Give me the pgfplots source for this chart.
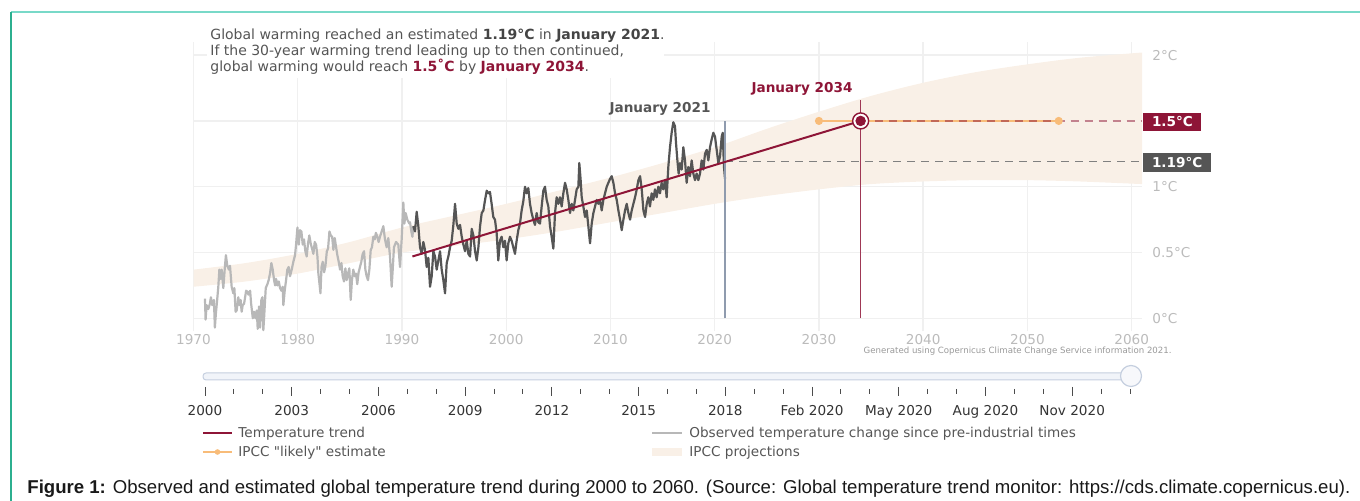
\documentclass[border=0pt]{standalone}
\usepackage{fontspec}
\setmainfont{DejaVu Sans}[Ligatures=TeXOff]
\newfontfamily\capfont{Liberation Sans}
\usepackage{pgfplots}
\pgfplotsset{compat=1.18}
\usepgfplotslibrary{fillbetween}

\definecolor{trendred}{HTML}{8E1537}
\definecolor{obsdark}{HTML}{555555}
\definecolor{obslight}{HTML}{B8B8B8}
\definecolor{bandfill}{HTML}{F9F0E7}
\definecolor{likelyorange}{HTML}{F8BC79}
\definecolor{gridgray}{HTML}{F0F0F0}
\definecolor{ticktext}{HTML}{BBBBBB}
\definecolor{textgray}{HTML}{555555}
\definecolor{linebluegray}{HTML}{8F9BAE}
\definecolor{tealtop}{HTML}{78D9C8}
\definecolor{tealleft}{HTML}{2CAF8F}
\definecolor{slidertrack}{HTML}{F1F4F9}
\definecolor{sliderline}{HTML}{C5CFDF}

\newcommand{\chartfont}{\fontsize{6.8pt}{8pt}\selectfont}

\begin{document}
\begin{tikzpicture}

\begin{axis}[
    at={(96.75pt,84.75pt)}, anchor=south west,
    scale only axis, width=474.3pt, height=144.76pt,
    xmin=1970, xmax=2061, ymin=-0.1, ymax=2.1,
    axis line style={draw=none},
    major tick length=0pt,
    xtick={1970,1980,...,2060},
    xticklabels={1970,1980,1990,2000,2010,2020,2030,2040,2050,2060},
    ytick={0,0.5,1,1.5,2},
    yticklabels={0°C,0.5°C,1°C,,2°C},
    yticklabel pos=right,
    grid=major,
    grid style={gridgray, line width=0.7pt},
    ticklabel style={font=\chartfont, text=ticktext},
    xticklabel style={anchor=base, inner sep=0pt, yshift=-6.75pt},
    yticklabel style={anchor=base west, inner sep=0pt, xshift=5pt, yshift=-2.5pt},
    clip=false,
]
% IPCC projections band
\addplot[name path=up, draw=none, smooth] coordinates {
    (1970,0.37) (1975,0.42) (1980,0.49) (1985,0.58) (1990,0.69) (1995,0.78)
    (2000,0.87) (2005,0.97) (2010,1.07) (2015,1.18) (2020,1.30) (2025,1.44)
    (2030,1.57) (2035,1.69) (2040,1.79) (2045,1.87) (2050,1.93) (2055,1.98) (2061,2.02)
};
\addplot[name path=lo, draw=none, smooth] coordinates {
    (1970,0.24) (1975,0.28) (1980,0.34) (1985,0.42) (1990,0.50) (1995,0.55)
    (2000,0.60) (2005,0.66) (2010,0.73) (2015,0.80) (2020,0.87) (2025,0.93)
    (2030,0.98) (2035,1.02) (2040,1.04) (2045,1.05) (2050,1.05) (2055,1.04) (2061,1.02)
};
\addplot[bandfill, draw=none] fill between[of=up and lo];

% observed, before the 30-year window
\addplot[obslight, line width=1.1pt, line join=round] coordinates {
    (1971.10,0.15) (1971.16,-0.01) (1971.26,0.10) (1971.42,0.07) (1971.57,0.11)
    (1971.67,0.16) (1971.80,0.10) (1971.96,0.14) (1972.05,-0.07) (1972.15,0.04)
    (1972.27,0.14) (1972.38,0.24) (1972.48,0.37) (1972.60,0.30) (1972.70,0.37)
    (1972.86,0.23) (1973.02,0.40) (1973.11,0.48) (1973.24,0.40) (1973.40,0.37)
    (1973.50,0.40) (1973.66,0.24) (1973.82,0.19) (1973.92,0.23) (1974.04,0.05)
    (1974.14,0.06) (1974.30,0.16) (1974.40,0.10) (1974.52,0.14) (1974.62,0.05)
    (1974.72,0.10) (1974.85,0.11) (1975.05,0.21) (1975.18,0.20) (1975.27,0.18)
    (1975.43,0.21) (1975.53,0.11) (1975.69,0.00) (1975.81,0.05) (1975.94,0.00)
    (1976.07,0.06) (1976.16,-0.08) (1976.29,0.09) (1976.39,-0.07) (1976.51,0.14)
    (1976.61,0.16) (1976.70,-0.09) (1976.77,0.00) (1976.93,0.23) (1977.09,0.26)
    (1977.21,0.29) (1977.34,0.34) (1977.47,0.42) (1977.60,0.37) (1977.73,0.29)
    (1977.83,0.25) (1977.92,0.30) (1978.05,0.25) (1978.18,0.28) (1978.30,0.23)
    (1978.43,0.21) (1978.56,0.24) (1978.62,0.10) (1978.75,0.21) (1978.88,0.29)
    (1979.00,0.37) (1979.13,0.39) (1979.26,0.32) (1979.42,0.37) (1979.58,0.43)
    (1979.74,0.48) (1979.84,0.56) (1979.97,0.69) (1980.10,0.56) (1980.22,0.67)
    (1980.35,0.66) (1980.48,0.56) (1980.60,0.60) (1980.73,0.51) (1980.86,0.47)
    (1980.99,0.57) (1981.11,0.63) (1981.24,0.57) (1981.37,0.53) (1981.50,0.49)
    (1981.63,0.58) (1981.76,0.56) (1981.89,0.47) (1981.98,0.34) (1982.09,0.26)
    (1982.18,0.19) (1982.28,0.39) (1982.40,0.43) (1982.53,0.35) (1982.66,0.40)
    (1982.79,0.51) (1982.91,0.53) (1983.04,0.66) (1983.17,0.63) (1983.30,0.62)
    (1983.42,0.52) (1983.55,0.61) (1983.68,0.54) (1983.80,0.48) (1983.93,0.43)
    (1984.06,0.37) (1984.19,0.42) (1984.31,0.32) (1984.44,0.28) (1984.57,0.38)
    (1984.69,0.29) (1984.82,0.34) (1984.95,0.38) (1985.08,0.14) (1985.20,0.29)
    (1985.33,0.37) (1985.46,0.32) (1985.59,0.34) (1985.71,0.26) (1985.84,0.35)
    (1985.97,0.39) (1986.10,0.43) (1986.23,0.49) (1986.36,0.51) (1986.49,0.37)
    (1986.61,0.32) (1986.74,0.29) (1986.87,0.37) (1987.00,0.52) (1987.12,0.54)
    (1987.25,0.62) (1987.38,0.60) (1987.50,0.65) (1987.63,0.62) (1987.76,0.58)
    (1987.89,0.62) (1988.05,0.66) (1988.21,0.70) (1988.37,0.60) (1988.53,0.54)
    (1988.69,0.61) (1988.85,0.47) (1989.01,0.24) (1989.11,0.37) (1989.23,0.54)
    (1989.43,0.58) (1989.65,0.56) (1989.81,0.39) (1989.97,0.60) (1990.13,0.88)
    (1990.23,0.72) (1990.35,0.80) (1990.51,0.75) (1990.71,0.72) (1990.77,0.73)
    (1990.90,0.66) (1991.00,0.62) (1991.09,0.70)
};

% observed, last 30 years
\addplot[obsdark, line width=1.1pt, line join=round] coordinates {
    (1991.09,0.70) (1991.25,0.66) (1991.41,0.81) (1991.57,0.70) (1991.73,0.54)
    (1991.89,0.49) (1992.05,0.58) (1992.21,0.52) (1992.37,0.39) (1992.53,0.46)
    (1992.69,0.24) (1992.85,0.32) (1993.01,0.51) (1993.17,0.47) (1993.33,0.37)
    (1993.49,0.44) (1993.65,0.51) (1993.81,0.37) (1993.97,0.29) (1994.13,0.19)
    (1994.29,0.42) (1994.45,0.47) (1994.61,0.54) (1994.77,0.59) (1994.93,0.71)
    (1995.09,0.87) (1995.25,0.72) (1995.41,0.68) (1995.57,0.71) (1995.73,0.62)
    (1995.89,0.56) (1996.05,0.51) (1996.21,0.59) (1996.37,0.49) (1996.53,0.47)
    (1996.69,0.68) (1996.85,0.63) (1997.01,0.51) (1997.17,0.44) (1997.33,0.54)
    (1997.49,0.70) (1997.65,0.80) (1997.81,0.82) (1997.97,0.90) (1998.13,0.97)
    (1998.28,0.95) (1998.44,0.96) (1998.60,0.87) (1998.76,0.77) (1998.92,0.75)
    (1999.08,0.65) (1999.24,0.44) (1999.40,0.59) (1999.56,0.62) (1999.72,0.54)
    (1999.88,0.59) (2000.04,0.44) (2000.20,0.57) (2000.36,0.62) (2000.52,0.59)
    (2000.68,0.54) (2000.84,0.49) (2001.00,0.59) (2001.16,0.67) (2001.32,0.72)
    (2001.48,0.82) (2001.64,0.89) (2001.80,1.00) (2001.96,0.95) (2002.12,0.99)
    (2002.28,0.87) (2002.44,0.80) (2002.60,0.75) (2002.76,0.71) (2002.92,0.80)
    (2003.08,0.73) (2003.24,0.72) (2003.40,0.85) (2003.56,0.97) (2003.72,1.00)
    (2003.88,0.90) (2004.04,0.85) (2004.20,0.70) (2004.36,0.62) (2004.52,0.53)
    (2004.68,0.80) (2004.84,0.92) (2005.00,0.87) (2005.16,0.92)
    (2005.32,0.85) (2005.48,0.95) (2005.64,1.03) (2005.80,0.98) (2005.96,0.90)
    (2006.12,0.80) (2006.28,0.87) (2006.44,0.82) (2006.60,0.90) (2006.76,0.98)
    (2006.92,1.00) (2007.01,1.18) (2007.14,1.05) (2007.24,0.92) (2007.40,0.85)
    (2007.56,0.77) (2007.72,0.82) (2007.88,0.70) (2008.04,0.57) (2008.20,0.72)
    (2008.36,0.80) (2008.52,0.85) (2008.68,0.90) (2008.84,0.87) (2009.00,0.90)
    (2009.16,0.82) (2009.32,0.90) (2009.48,0.95) (2009.64,1.00) (2009.80,1.03)
    (2009.96,1.06) (2010.12,1.08) (2010.28,1.03) (2010.44,0.95) (2010.60,0.90)
    (2010.76,0.82) (2010.92,0.75) (2011.08,0.67) (2011.24,0.75) (2011.40,0.82)
    (2011.56,0.87) (2011.72,0.80) (2011.88,0.75) (2012.04,0.82) (2012.20,0.87)
    (2012.36,0.92) (2012.52,0.98) (2012.68,1.05) (2012.84,1.08) (2013.00,0.98)
    (2013.16,0.82) (2013.32,0.77) (2013.48,0.87) (2013.63,0.92) (2013.79,0.85)
    (2013.95,0.95) (2014.11,0.90) (2014.27,0.98) (2014.43,0.92) (2014.59,1.00)
    (2014.75,0.95) (2014.91,1.03) (2015.07,0.98) (2015.23,1.05) (2015.39,0.92)
    (2015.55,1.15) (2015.71,1.30) (2015.87,1.41) (2016.03,1.49) (2016.19,1.46)
    (2016.29,1.33) (2016.42,1.20) (2016.54,1.10) (2016.67,1.18) (2016.83,1.13)
    (2016.99,1.30) (2017.15,1.20) (2017.31,1.03) (2017.47,1.15) (2017.63,1.08)
    (2017.79,1.20) (2017.95,1.10) (2018.11,1.05) (2018.27,1.10) (2018.43,1.05)
    (2018.59,1.10) (2018.75,1.20) (2018.91,1.13) (2019.07,1.25) (2019.23,1.28)
    (2019.39,1.20) (2019.55,1.30) (2019.71,1.36) (2019.87,1.41) (2020.03,1.38)
    (2020.19,1.28) (2020.35,1.18) (2020.51,1.23) (2020.67,1.38) (2020.77,1.41)
    (2020.89,1.15) (2020.99,1.06)
};

% January 2021 marker line and 1.19 level
\addplot[linebluegray, line width=0.75pt] coordinates {(2021,0) (2021,1.5)};
\addplot[gray, line width=0.6pt, dash pattern=on 4pt off 3pt] coordinates {(2021,1.19) (2061,1.19)};

% IPCC likely range and 1.5 level
\addplot[likelyorange, line width=1pt, mark=*, mark size=1.5pt, mark repeat=1]
    coordinates {(2030,1.5) (2053,1.5)};
\addplot[trendred, draw opacity=0.5, line width=0.75pt, dash pattern=on 4pt off 3pt]
    coordinates {(2034,1.5) (2061,1.5)};

% January 2034 marker line
\addplot[trendred!85, line width=0.5pt] coordinates {(2034,0) (2034,1.66)};

% temperature trend
\addplot[trendred, line width=1pt] coordinates {(1991,0.47) (2034,1.5)};

% crossing point
\addplot[only marks, mark=*, mark size=4pt, mark options={fill=white, draw=trendred, line width=0.7pt}]
    coordinates {(2034,1.5)};
\addplot[only marks, mark=*, mark size=2.4pt, mark options={fill=trendred, draw=trendred}]
    coordinates {(2034,1.5)};
\end{axis}

\begin{scope}[x=0.5pt, y=-0.5pt, shift={(0,250.5pt)}]
% frame
\draw[tealtop, line width=0.8pt] (11,12) -- (1360,12);
\draw[tealleft, line width=0.6pt] (11,12) -- (11,501);

% annotation
\fill[white] (207,24) rectangle (664,78);
\begin{scope}[every node/.style={anchor=base west, inner sep=0pt, text=textgray, font=\fontsize{7pt}{8pt}\selectfont}]
\node at (210,40) {Global warming reached an estimated \textbf{\color{obsdark!80!black}1.19°C} in \textbf{\color{obsdark!80!black}January 2021}.};
\node at (210,56) {If the 30-year warming trend leading up to then continued,};
\node at (210,72) {global warming would reach \textbf{\color{trendred}1.5˚C} by \textbf{\color{trendred}January 2034}.};
\end{scope}

\node[anchor=base, inner sep=0pt, font=\chartfont\bfseries, text=obsdark] at (660,113) {January 2021};
\node[anchor=base, inner sep=0pt, font=\chartfont\bfseries, text=trendred] at (802,93) {January 2034};

% value boxes
\node[anchor=west, fill=trendred, text=white, font=\chartfont\bfseries, inner xsep=4.3pt, inner ysep=0pt, minimum height=9pt] at (1143,122) {1.5°C};
\node[anchor=west, fill=obsdark, text=white, font=\chartfont\bfseries, inner xsep=4.3pt, inner ysep=0pt, minimum height=9.5pt] at (1143,162.5) {1.19°C};

\node[anchor=base east, inner sep=0pt, text=gray!80, font=\fontsize{4.3pt}{5pt}\selectfont] at (1172,354) {Generated using Copernicus Climate Change Service information 2021.};

% range slider
\draw[sliderline, fill=slidertrack, rounded corners=1.5pt, line width=0.5pt] (203,373) rectangle (1131,380);
\draw[sliderline, fill=slidertrack!60, line width=0.6pt] (1131,376) circle (5.25pt);
\foreach \k in {0,...,32} {
  \draw[black!70, line width=0.5pt] ({205+\k*28.906},389) -- ++(0,5);
}
\foreach \k in {0,3,...,30} {
  \draw[black!70, line width=0.5pt] ({205+\k*28.906},387) -- ++(0,9);
}
\foreach \lab [count=\i from 0] in {2000,2003,2006,2009,2012,2015,2018,Feb 2020,May 2020,Aug 2020,Nov 2020} {
  \node[anchor=base, inner sep=0pt, font=\chartfont, text=black!80] at ({205+\i*86.72},416) {\lab};
}

% legend
\begin{scope}[every node/.style={anchor=base west, inner sep=0pt, font=\chartfont, text=textgray}]
\draw[trendred, line width=1pt] (203,433) -- (232,433);
\node at (238,438) {Temperature trend};
\draw[likelyorange, line width=1pt] (203,452) -- (232,452);
\fill[likelyorange] (217.5,452) circle (1.4pt);
\node at (238,457) {IPCC "likely" estimate};
\draw[obslight, line width=1pt] (652,433) -- (682,433);
\node at (689,438) {Observed temperature change since pre-industrial times};
\fill[bandfill] (652,448) rectangle (682,456);
\node at (689,457) {IPCC projections};
\end{scope}

% caption
\node[anchor=base west, inner sep=0pt, font=\capfont\fontsize{9.3pt}{11pt}\selectfont, text=black!90] at (27,494)
  {\textbf{Figure 1:} Observed and estimated global temperature trend during 2000 to 2060. (Source: Global temperature trend monitor: https://cds.climate.copernicus.eu).};
\end{scope}

\pgfresetboundingbox
\path (0,0) rectangle (680pt,250.5pt);
\end{tikzpicture}
\end{document}
